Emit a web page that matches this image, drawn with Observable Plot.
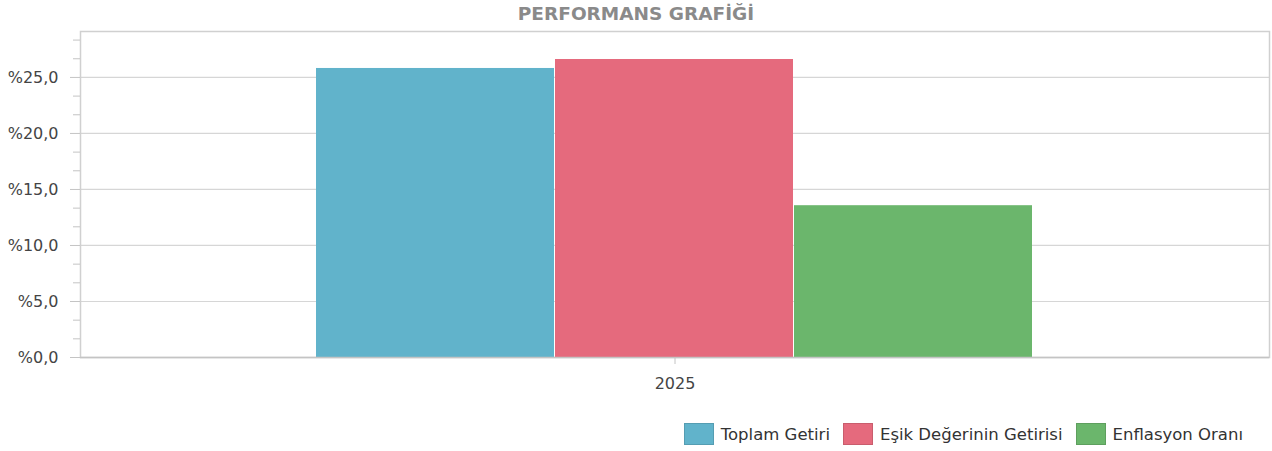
<!DOCTYPE html>
<html>
<head>
<meta charset="utf-8">
<script src="https://cdn.jsdelivr.net/npm/d3@7"></script>
<script src="https://cdn.jsdelivr.net/npm/@observablehq/plot@0.6"></script>
<style>
  body { margin: 0; background: #fff; font-family: "DejaVu Sans", sans-serif; }
  #title { height: 28px; line-height: 28px; text-align: center; font-weight: bold; font-size: 18.5px; color: #8a8a8a; }
  #legend { display: flex; justify-content: flex-end; align-items: center; margin-top: 15px; padding-right: 29px; font-size: 16.5px; color: #333; }
  #legend .item { display: flex; align-items: center; margin-left: 13px; }
  #legend .sw { width: 30px; height: 22px; margin-right: 7px; box-sizing: border-box; border: 1px solid rgba(0,0,0,0.12); }
</style>
</head>
<body>
<div id="title">PERFORMANS GRAFİĞİ</div>
<div id="chart"></div>
<div id="legend"></div>
<script>
const years = ["2025"];
const seriesNames = ["Toplam Getiri", "Eşik Değerinin Getirisi", "Enflasyon Oranı"];
const seriesValues = [25.8, 26.6, 13.55];
const seriesColors = ["#61b3cb", "#e56a7d", "#6bb66c"];
const yTicks = [0, 5, 10, 15, 20, 25];
const yTickLabels = ["%0,0", "%5,0", "%10,0", "%15,0", "%20,0", "%25,0"];
const yMax = 29.1;

const data = seriesNames.map((s, i) => ({year: years[0], series: s, value: seriesValues[i]}));
const minorTicks = d3.range(0, yMax, 5 / 3).filter(v => !yTicks.some(t => Math.abs(t - v) < 1e-6));
// the year's group is centred on the middle series of the group
const yearTick = seriesNames[Math.floor(seriesNames.length / 2)];

const plot = Plot.plot({
  width: 1272,
  height: 380,
  marginTop: 3,
  marginBottom: 51,
  marginLeft: 80,
  marginRight: 3,
  style: {fontFamily: "DejaVu Sans, sans-serif", fontSize: "16px", color: "#444", background: "#fff"},
  x: {domain: seriesNames, paddingInner: 0, paddingOuter: 0.987},
  y: {domain: [0, yMax]},
  color: {domain: seriesNames, range: seriesColors},
  marks: [
    Plot.gridY(yTicks.filter(t => t > 0), {stroke: "#d6d6d6", strokeWidth: 1.2, strokeOpacity: 1}),
    Plot.frame({stroke: "#d0d0d0", strokeWidth: 1.5}),
    Plot.barY(data, {x: "series", y: "value", fill: "series", insetRight: 1}),
    Plot.axisY(yTicks, {tickSize: 10, tickPadding: 12, tickFormat: d => yTickLabels[yTicks.indexOf(d)], stroke: "#c4c4c4", fill: "#444", fontSize: "16px", label: null}),
    Plot.axisY(minorTicks, {tickSize: 7, text: null, stroke: "#c4c4c4", label: null}),
    Plot.ruleY([0], {stroke: "#c4c4c4", strokeWidth: 1.5}),
    Plot.axisX([yearTick], {tickSize: 7, tickPadding: 13, tickFormat: () => years[0], stroke: "#c4c4c4", fill: "#444", fontSize: "16px", label: null})
  ]
});
document.getElementById("chart").appendChild(plot);

const legend = document.getElementById("legend");
seriesNames.forEach((s, i) => {
  const item = document.createElement("div");
  item.className = "item";
  const sw = document.createElement("span");
  sw.className = "sw";
  sw.style.background = seriesColors[i];
  const t = document.createElement("span");
  t.textContent = s;
  item.appendChild(sw);
  item.appendChild(t);
  legend.appendChild(item);
});
</script>
</body>
</html>
